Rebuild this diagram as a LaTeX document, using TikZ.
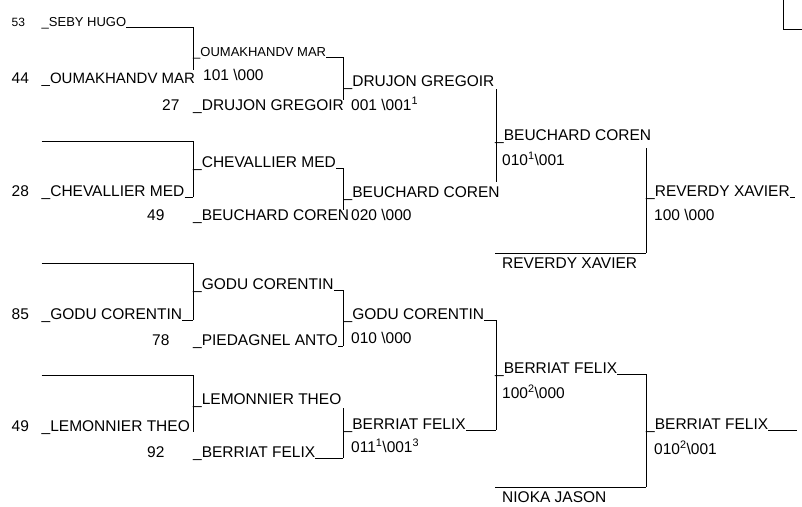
\documentclass[tikz,border=0pt]{standalone}
\usepackage{fontspec}
\setmainfont{Liberation Sans}
\usetikzlibrary{calc}

\begin{document}
\begin{tikzpicture}[x=1pt, y=-1pt,
    plr/.style={anchor=base west, inner sep=0pt, font=\fontsize{15.5}{17}\selectfont},
    plrsm/.style={plr, font=\fontsize{13}{15}\selectfont},
    seed/.style={plr},
    score/.style={plr},
    ln/.style={line width=0.9pt, black}]
    \useasboundingbox (0,0) rectangle (802,506);

    % round 1 (seed numbers and entrants)
    \node[seed, font=\fontsize{12}{14}\selectfont] (s53) at (11.5,26) {53};
    \node[plrsm] (r1a) at (41.5,26) {\_SEBY HUGO};
    \node[seed] (s44) at (11.5,83) {44};
    \node[plr, font=\fontsize{15}{17}\selectfont] (r1b) at (41.5,83) {\_OUMAKHANDV MAR};
    \foreach \s/\y/\t/\n in {28/196/CHEVALLIER MED/r1d, 85/319/GODU CORENTIN/r1f,
                             49/431/LEMONNIER THEO/r1h}{
        \node[seed] (s\s) at (11.5,\y) {\s};
        \node[plr] (\n) at (41.5,\y) {\_\t};
    }

    % round 2 (winners of round 1, and players entering here)
    \node[plrsm] (r2a) at (193,56) {\_OUMAKHANDV MAR};
    \node[plr] (r2c) at (193,167) {\_CHEVALLIER MED};
    \node[plr] (r2e) at (193,289) {\_GODU CORENTIN};
    \node[plr] (r2g) at (193,404) {\_LEMONNIER THEO};
    \foreach \s/\x/\y/\t/\n in {27/162/110/DRUJON GREGOIR/r2b, 49/147/220/BEUCHARD COREN/r2d,
                                78/152/345/PIEDAGNEL ANTO/r2f, 92/147/457/BERRIAT FELIX/r2h}{
        \node[seed] (t\n) at (\x,\y) {\s};
        \node[plr] (\n) at (193,\y) {\_\t};
    }
    \node[score] (sc11) at (203,80) {101 \textbackslash 000};

    % round 3
    \node[plr] (r3a) at (343.5,86) {\_DRUJON GREGOIR};
    \node[plr] (r3b) at (343.5,197) {\_BEUCHARD COREN};
    \node[plr] (r3c) at (343.5,319) {\_GODU CORENTIN};
    \node[plr] (r3d) at (343.5,429) {\_BERRIAT FELIX};
    \node[score] (sc21) at (351,110) {001 \textbackslash 001\textsuperscript{1}};
    \node[score] (sc22) at (351,220) {020 \textbackslash 000};
    \node[score] (sc23) at (351,343) {010 \textbackslash 000};
    \node[score] (sc24) at (351,452) {011\textsuperscript{1}\textbackslash 001\textsuperscript{3}};

    % round 4
    \node[plr] (r4a) at (495,140) {\_BEUCHARD COREN};
    \node[plr] (r4b) at (502,268) {REVERDY XAVIER};
    \node[plr] (r4c) at (495,373) {\_BERRIAT FELIX};
    \node[plr] (r4d) at (502,502) {NIOKA JASON};
    \node[score] (sc31) at (502,165) {010\textsuperscript{1}\textbackslash 001};
    \node[score] (sc32) at (502,398) {100\textsuperscript{2}\textbackslash 000};

    % round 5
    \node[plr] (r5a) at (646,196) {\_REVERDY XAVIER};
    \node[plr] (r5b) at (646,429) {\_BERRIAT FELIX};
    \node[score] (sc41) at (654,220) {100 \textbackslash 000};
    \node[score] (sc42) at (654,454) {010\textsuperscript{2}\textbackslash 001};

    % bracket verticals (top / bottom of each)
    \foreach \m/\x/\ya/\yb in {11/193/27/70, 12/193/141/197, 13/193/263/320, 14/193/375/432,
                               21/343/57/100, 22/343/168/210, 23/343/290/346, 24/343/408/458,
                               31/496/89/182, 32/496/320/430, 41/646/148/253, 42/646/374/487}{
        \coordinate (t\m) at (\x,\ya);
        \coordinate (b\m) at (\x,\yb);
        \draw[ln] (t\m) -- (b\m);
    }

    % free ends of the empty slots and of the last lines
    \coordinate (e1) at (41.5,141);
    \coordinate (e2) at (41.5,263);
    \coordinate (e3) at (41.5,375);
    \coordinate (e4) at (495,253);
    \coordinate (e5) at (495,487);
    \coordinate (f1) at (795,197);
    \coordinate (f2) at (797,430);

    % horizontals
    \draw[ln] (r1a.east |- t11) -- (t11);
    \draw[ln] (e1) -- (t12);
    \draw[ln] (r1d.east |- b12) -- (b12);
    \draw[ln] (e2) -- (t13);
    \draw[ln] (r1f.east |- b13) -- (b13);
    \draw[ln] (e3) -- (t14);
    \draw[ln] (r2a.east |- t21) -- (t21);
    \draw[ln] (r2c.east |- t22) -- (t22);
    \draw[ln] (r2e.east |- t23) -- (t23);
    \draw[ln] (r2f.east |- b23) -- (b23);
    \draw[ln] (r2h.east |- b24) -- (b24);
    \draw[ln] (r3c.east |- t32) -- (t32);
    \draw[ln] (r3d.east |- b32) -- (b32);
    \draw[ln] (e4) -- (b41);
    \draw[ln] (r4c.east |- t42) -- (t42);
    \draw[ln] (e5) -- (b42);
    \draw[ln] (r5a.east |- f1) -- (f1);
    \draw[ln] (r5b.east |- f2) -- (f2);

    % corner of the next bracket, cut at the edge
    \coordinate (g1) at (783,0);
    \coordinate (g2) at (802,29);
    \draw[ln] (g1) |- (g2);
\end{tikzpicture}
\end{document}
